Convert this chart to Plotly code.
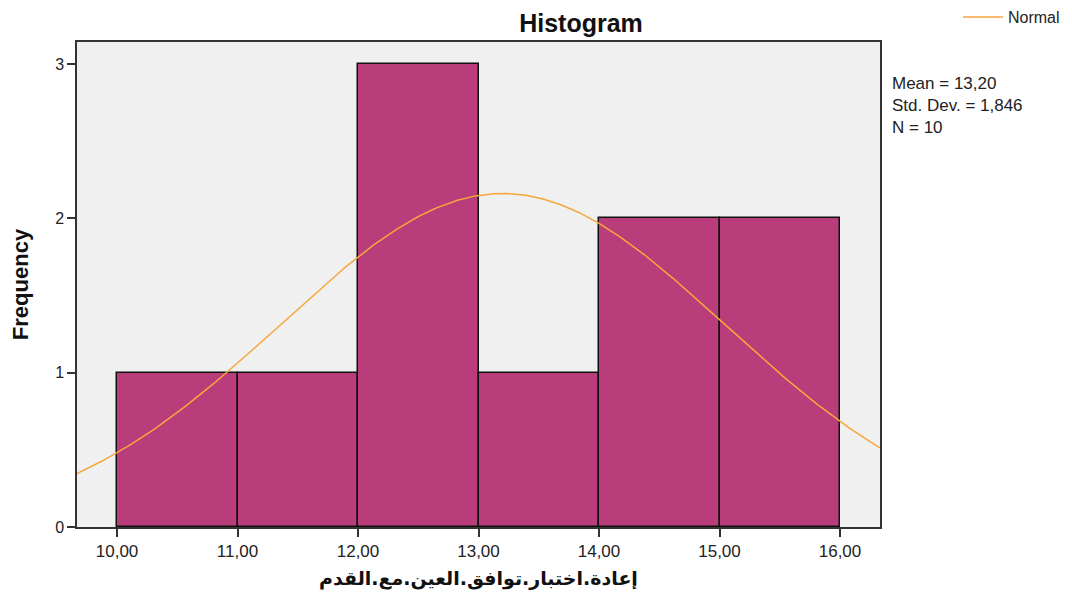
import numpy as np
import plotly.graph_objects as go

# Data
bin_starts = [10, 11, 12, 13, 14, 15]
frequencies = [1, 1, 3, 1, 2, 2]
bin_width = 1
mean_val = 13.20
std_dev = 1.846
n_obs = 10
x_tick_vals = [10, 11, 12, 13, 14, 15, 16]
x_tick_text = ["10,00", "11,00", "12,00", "13,00", "14,00", "15,00", "16,00"]
y_tick_vals = [0, 1, 2, 3]
x_range = [9.668, 16.332]
y_range = [0, 3.143]

bar_centers = [s + bin_width / 2 for s in bin_starts]

xs = np.linspace(x_range[0], x_range[1], 400)
ys = n_obs * bin_width / (std_dev * np.sqrt(2 * np.pi)) * np.exp(-0.5 * ((xs - mean_val) / std_dev) ** 2)

fig = go.Figure()
fig.add_trace(go.Bar(
    x=bar_centers, y=frequencies, width=[bin_width] * len(bar_centers),
    marker=dict(color="#B83D7A", line=dict(color="#111111", width=1.5)),
    showlegend=False, hoverinfo="skip",
))
fig.add_trace(go.Scatter(
    x=xs, y=ys, mode="lines", name="Normal",
    line=dict(color="#F5A73C", width=1.5),
))

FONT = "Liberation Sans, Arial, sans-serif"

fig.update_layout(
    width=1064, height=593,
    margin=dict(l=69, r=192, t=34, b=74, autoexpand=False),
    paper_bgcolor="white",
    plot_bgcolor="#F0F0F0",
    font=dict(family=FONT, color="#222222", size=15),
    bargap=0,
    title=dict(
        text="<b>Histogram</b>", xref="container", yref="container",
        x=(581 - 8) / 1064, y=1 - (23 - 8) / 593, xanchor="center", yanchor="middle",
        font=dict(size=25, family=FONT, color="#111111"),
    ),
    legend=dict(
        x=1 + (958 - 880) / 803, y=1 + (42 - 17) / 485, xanchor="left", yanchor="middle",
        bgcolor="rgba(0,0,0,0)", font=dict(size=16, family=FONT, color="#222222"),
        itemwidth=40,
    ),
    xaxis=dict(
        range=x_range, tickvals=x_tick_vals, ticktext=x_tick_text,
        ticks="outside", ticklen=8, tickcolor="#333333", tickwidth=1.5,
        showgrid=False, zeroline=False, automargin=False,
        showline=True, linecolor="#333333", linewidth=1.5, mirror=True,
        tickfont=dict(size=17, family=FONT, color="#222222"),
        title=dict(text="<b>إعادة.اختبار.توافق.العين.مع.القدم</b>",
                   font=dict(size=19, family="DejaVu Sans, sans-serif", color="#111111"),
                   standoff=12),
    ),
    yaxis=dict(
        range=y_range, tickvals=y_tick_vals,
        ticks="outside", ticklen=8, tickcolor="#333333", tickwidth=1.5,
        showgrid=False, zeroline=False, automargin=False,
        showline=True, linecolor="#333333", linewidth=1.5, mirror=True,
        tickfont=dict(size=16, family=FONT, color="#222222"),
        title=dict(text="<b>Frequency</b>", font=dict(size=22, family=FONT, color="#111111"),
                   standoff=20),
    ),
    annotations=[
        dict(text=f"Mean = {mean_val:.2f}".replace(".", ",") + "<br>"
                  + f"Std. Dev. = {std_dev:.3f}".replace("1.", "1,") + "<br>"
                  + f"N = {n_obs}",
             xref="paper", yref="paper", x=1 + (890 - 880) / 803, y=1 - (72 - 42) / 485,
             xanchor="left", yanchor="top", align="left", showarrow=False,
             font=dict(size=17, family=FONT, color="#222222")),
    ],
)

fig.write_html("out.html")
